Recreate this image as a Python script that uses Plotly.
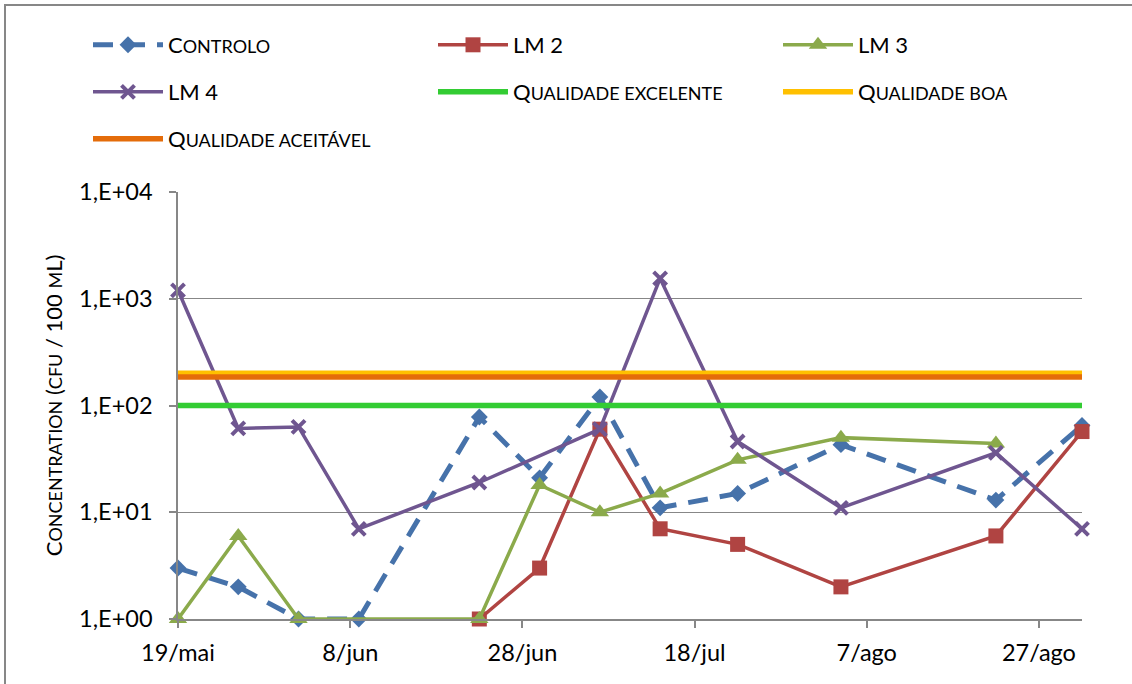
import pandas as pd
import plotly.graph_objects as go

# Sampling campaign: days counted from the first sampling date
start_date = pd.Timestamp("2013-05-19")

days_controlo = [0, 7, 14, 21, 35, 42, 49, 56, 65, 77, 95, 105]
controlo = [3, 2, 1, 1, 78, 21, 120, 11, 15, 43, 13, 65]

days_lm2 = [35, 42, 49, 56, 65, 77, 95, 105]
lm2 = [1, 3, 60, 7, 5, 2, 6, 57]

days_lm3 = [0, 7, 14, 35, 42, 49, 56, 65, 77, 95]
lm3 = [1, 6, 1, 1, 18, 10, 15, 31, 50, 44]

days_lm4 = [0, 7, 14, 21, 35, 49, 56, 65, 77, 95, 105]
lm4 = [1200, 61, 63, 7, 19, 60, 1550, 46, 11, 36, 7]

# Bathing-water quality thresholds (cfu / 100 mL)
limit_days = [0, 105]
qualidade_excelente = 100
qualidade_boa = 200
qualidade_aceitavel = 185

tick_days = [0, 20, 40, 60, 80, 100]
tick_labels_x = ["19/mai", "8/jun", "28/jun", "18/jul", "7/ago", "27/ago"]
tick_vals_y = [1, 10, 100, 1000, 10000]
tick_labels_y = ["1,E+00", "1,E+01", "1,E+02", "1,E+03", "1,E+04"]


def to_dates(days):
    return [start_date + pd.Timedelta(days=d) for d in days]


FONT = "Lato"
SC = "font-size:18px"  # small-caps letters
TICK_FONT = dict(family=FONT, size=23.5, color="black")


def small_caps(big, small):
    return f"{big}<span style='{SC}'>{small}</span>"


BLUE = "#4672AA"
RED = "#B04442"
GREEN = "#8BAA4B"
PURPLE = "#6F5690"
GRID = "#878787"

fig = go.Figure()

fig.add_trace(go.Scatter(
    x=to_dates(days_controlo), y=controlo, mode="lines+markers",
    name=small_caps("C", "ONTROLO"), legend="legend", cliponaxis=False,
    line=dict(color=BLUE, width=5, dash="20px,12px"),
    marker=dict(symbol="diamond", size=13, color=BLUE),
))
fig.add_trace(go.Scatter(
    x=to_dates(days_lm2), y=lm2, mode="lines+markers",
    name="LM 2", legend="legend", cliponaxis=False,
    line=dict(color=RED, width=3.5),
    marker=dict(symbol="square", size=15, color=RED),
))
fig.add_trace(go.Scatter(
    x=to_dates(days_lm3), y=lm3, mode="lines+markers",
    name="LM 3", legend="legend", cliponaxis=False,
    line=dict(color=GREEN, width=3.5),
    marker=dict(symbol="triangle-up", size=16, color=GREEN),
))
fig.add_trace(go.Scatter(
    x=to_dates(days_lm4), y=lm4, mode="lines+markers",
    name="LM 4", legend="legend2", cliponaxis=False,
    line=dict(color=PURPLE, width=3.5),
    marker=dict(symbol="x-thin", size=13, color=PURPLE,
                line=dict(color=PURPLE, width=4)),
))
fig.add_trace(go.Scatter(
    x=to_dates(limit_days), y=[qualidade_excelente] * len(limit_days),
    mode="lines", name=small_caps("Q", "UALIDADE EXCELENTE"), legend="legend2",
    line=dict(color="#33CC33", width=5.5),
))
fig.add_trace(go.Scatter(
    x=to_dates(limit_days), y=[qualidade_boa] * len(limit_days),
    mode="lines", name=small_caps("Q", "UALIDADE BOA"), legend="legend2",
    line=dict(color="#FFC000", width=5.5),
))
fig.add_trace(go.Scatter(
    x=to_dates(limit_days), y=[qualidade_aceitavel] * len(limit_days),
    mode="lines", name=small_caps("Q", "UALIDADE ACEITÁVEL"), legend="legend3",
    line=dict(color="#E46C0A", width=5.5),
))

W, H = 1132, 684
ML, MR, MT, MB = 178, 50, 192, 65
PW, PH = W - ML - MR, H - MT - MB


def px_x(px):
    return (px - ML) / PW


def px_y(py):
    return (H - MB - py) / PH


legend_common = dict(
    orientation="h", xanchor="left", yanchor="middle",
    font=dict(family=FONT, size=22, color="black"),
    bgcolor="rgba(0,0,0,0)", itemwidth=70,
    entrywidth=260, entrywidthmode="pixels",
    traceorder="normal", itemclick=False,
)

y_title = (small_caps("C", "ONCENTRATION") + " (" + f"<span style='{SC}'>CFU</span>"
           + " / 100 " + small_caps("", "M") + "L)")

fig.update_layout(
    width=W, height=H,
    margin=dict(l=ML, r=MR, t=MT, b=MB),
    paper_bgcolor="white", plot_bgcolor="white",
    font=dict(family=FONT, size=22, color="black"),
    legend=dict(x=px_x(88), y=px_y(45), **legend_common),
    legend2=dict(x=px_x(88), y=px_y(92), **legend_common),
    legend3=dict(x=px_x(88), y=px_y(139), **legend_common),
    xaxis=dict(
        type="date",
        range=[start_date, start_date + pd.Timedelta(days=105)],
        tickvals=to_dates(tick_days), ticktext=tick_labels_x,
        showgrid=False, showline=True, linecolor=GRID, linewidth=1.5,
        ticks="outside", ticklen=7, tickwidth=1.5, tickcolor=GRID,
        tickfont=TICK_FONT,
        ticklabelstandoff=5, zeroline=False,
    ),
    yaxis=dict(
        type="log", range=[0, 4],
        tickvals=tick_vals_y, ticktext=tick_labels_y,
        showgrid=True, gridcolor=GRID, gridwidth=1.3,
        showline=True, linecolor=GRID, linewidth=1.5,
        ticks="outside", ticklen=7, tickwidth=1.5, tickcolor=GRID,
        tickfont=TICK_FONT,
        ticklabelstandoff=12,
        title=dict(text=y_title, font=dict(family=FONT, size=22, color="black"),
                   standoff=10),
        zeroline=False,
    ),
    shapes=[dict(
        type="rect", xref="paper", yref="paper",
        x0=px_x(5), x1=px_x(1145), y0=px_y(700), y1=px_y(5),
        line=dict(color=GRID, width=2), fillcolor="rgba(0,0,0,0)", layer="below",
    )],
    showlegend=True,
)

fig.write_html("out.html")
